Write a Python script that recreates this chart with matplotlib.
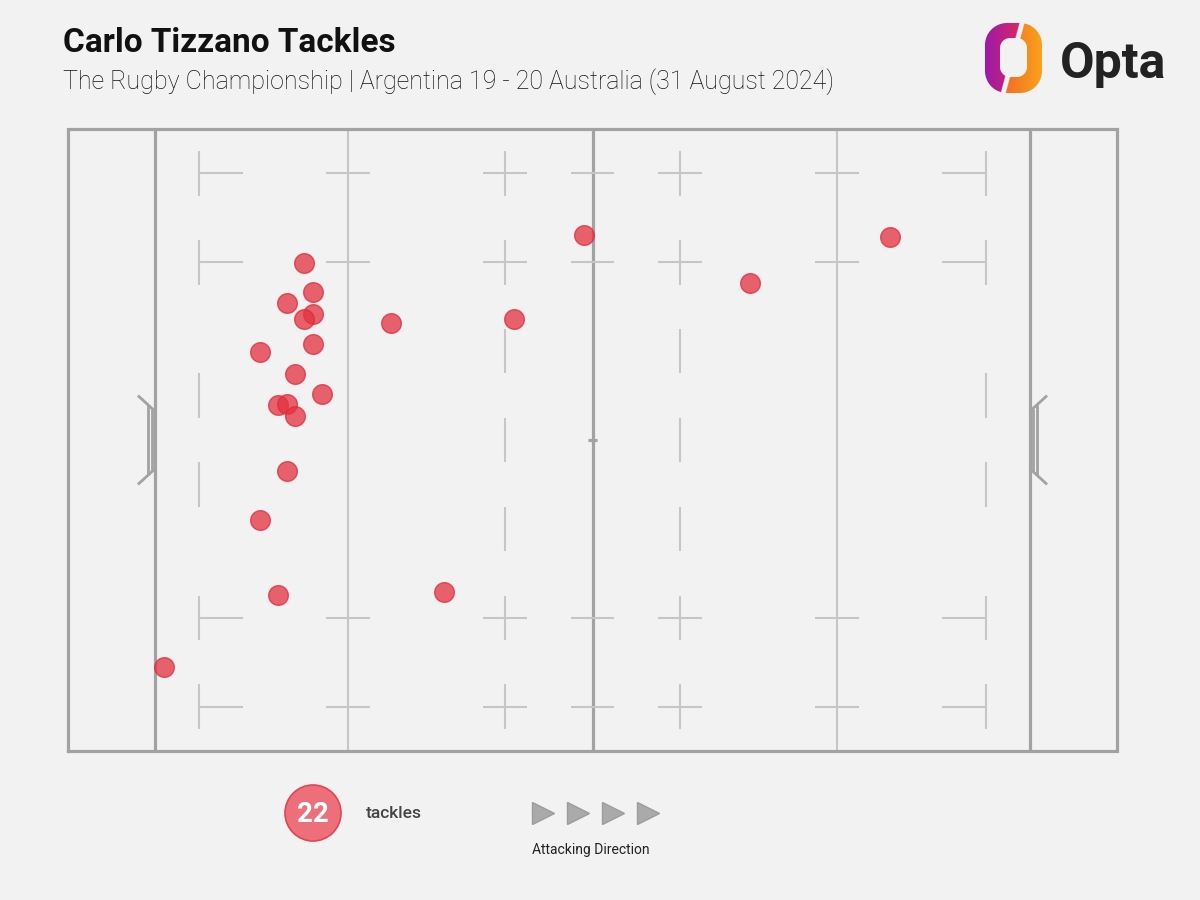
import numpy as np
import matplotlib
matplotlib.use("Agg")
import matplotlib.pyplot as plt
from matplotlib.path import Path
from matplotlib.patches import PathPatch, Circle
from matplotlib.colors import to_rgb

# Tackle locations in metres: x from own try line, y from bottom touchline
tackle_x = [49.0, 84.0, 17.0, 68.0, 18.0, 15.0, 18.0, 17.0, 27.0, 41.0, 18.0,
            12.0, 16.0, 19.0, 14.0, 15.0, 16.0, 15.0, 12.0, 14.0, 33.0, 1.0]
tackle_y = [58.1, 57.9, 54.9, 52.7, 51.6, 50.4, 49.2, 48.6, 48.2, 48.6, 45.8,
            44.9, 42.4, 40.2, 38.9, 39.1, 37.7, 31.5, 26.0, 17.6, 17.9, 9.5]

title = "Carlo Tizzano Tackles"
subtitle = "The Rugby Championship | Argentina 19 - 20 Australia (31 August 2024)"
count_label = "tackles"
direction_label = "Attacking Direction"

BG = "#f2f2f2"
LINE_DARK = "#a2a2a2"
LINE_LIGHT = "#c6c6c6"
DOT = "#e4303f"

plt.rcParams["font.family"] = ["Roboto", "DejaVu Sans"]

fig = plt.figure(figsize=(12, 9), dpi=100, facecolor=BG)

# --- pitch ---
ax = fig.add_axes([68 / 1200, 149 / 900, 1049 / 1200, 622 / 900])
ax.set_xlim(-10, 110)
ax.set_ylim(0, 70)
ax.set_facecolor(BG)
ax.axis("off")


def seg(x0, x1, y0, y1, color=LINE_LIGHT, lw=1.5):
    ax.plot([x0, x1], [y0, y1], color=color, lw=lw, solid_capstyle="butt",
            clip_on=False, zorder=1)


# dead ball lines and touchlines
ax.plot([-10, 110, 110, -10, -10], [0, 0, 70, 70, 0], color=LINE_DARK, lw=2.3,
        solid_joinstyle="miter", clip_on=False, zorder=2)
# try lines and halfway
for x in (0, 50, 100):
    seg(x, x, 0, 70, LINE_DARK, 2.3)
# 22m lines
for x in (22, 78):
    seg(x, x, 0, 70, LINE_LIGHT, 1.5)
    for y in (5, 15, 55, 65):
        seg(x - 2.5, x + 2.5, y, y)
# halfway hash marks
for y in (5, 15, 55, 65):
    seg(47.5, 52.5, y, y)
seg(49.5, 50.5, 35, 35, LINE_DARK, 2.3)
# 5m lines
for x, d in ((5, 1), (95, -1)):
    for yc in (5, 15, 30, 40, 55, 65):
        seg(x, x, yc - 2.5, yc + 2.5)
    for y in (5, 15, 55, 65):
        seg(x, x + 5 * d, y, y)
# 10m lines
for x in (40, 60):
    for yc in (5, 15, 25, 35, 45, 55, 65):
        seg(x, x, yc - 2.5, yc + 2.5)
    for y in (5, 15, 55, 65):
        seg(x - 2.5, x + 2.5, y, y)
# goal posts
for base, d in ((0, 1), (100, -1)):
    seg(base - 2 * d, base, 40, 38.2, LINE_DARK, 2.0)
    seg(base, base - 2 * d, 31.8, 30, LINE_DARK, 2.0)
    seg(base - 0.8 * d, base - 0.8 * d, 31.1, 38.9, LINE_DARK, 2.0)
    seg(base - 0.35 * d, base - 0.35 * d, 31.5, 38.5, LINE_DARK, 2.0)

ax.scatter(tackle_x, tackle_y, s=200, color=DOT, alpha=0.75,
           edgecolors="#e02a3a", linewidths=1.0, zorder=5, clip_on=False)

# --- titles ---
fig.text(63 / 1200, 1 - 52 / 900, title, fontsize=24, fontweight="bold",
         color="#111111", va="baseline")
fig.text(63 / 1200, 1 - 89 / 900, subtitle, fontsize=18, fontweight="light",
         color="#111111", va="baseline")

# --- Opta logo ---
lax = fig.add_axes([985 / 1200, 1 - 94 / 900, 57 / 1200, 71 / 900])
lax.set_xlim(0, 57)
lax.set_ylim(71, 0)
lax.axis("off")


def rounded_rect(x0, y0, x1, y1, r, n=16):
    pts = []
    for cx, cy, a0 in ((x1 - r, y0 + r, -90), (x1 - r, y1 - r, 0),
                       (x0 + r, y1 - r, 90), (x0 + r, y0 + r, 180)):
        t = np.radians(np.linspace(a0, a0 + 90, n))
        pts.append(np.column_stack([cx + r * np.cos(t), cy + r * np.sin(t)]))
    pts = np.vstack(pts)
    return np.vstack([pts, pts[:1]])


outer = rounded_rect(0, 0, 57, 70, 22)
inner = rounded_rect(15, 15, 42, 54, 10)[::-1]
ring = Path.make_compound_path(Path(outer, closed=True), Path(inner, closed=True))
ring_patch = PathPatch(ring, facecolor="none", edgecolor="none")
lax.add_patch(ring_patch)

ny, nx = 284, 228
X, Y = np.meshgrid(np.linspace(0, 57, nx), np.linspace(0, 71, ny))
side = X - (37 - 19 * Y / 71)
img = np.zeros((ny, nx, 4))
left_a, left_b = np.array(to_rgb("#9a1aa9")), np.array(to_rgb("#e6285a"))
right_a, right_b = np.array(to_rgb("#f26a24")), np.array(to_rgb("#f9a21b"))
tl = np.clip(X / 40, 0, 1)[..., None]
tr = np.clip((X - 18) / 39, 0, 1)[..., None]
img[..., :3] = np.where((side < 0)[..., None], left_a + (left_b - left_a) * tl,
                        right_a + (right_b - right_a) * tr)
img[..., 3] = (np.abs(side) > 2.5).astype(float)
im = lax.imshow(img, extent=(0, 57, 71, 0), origin="upper",
                interpolation="bilinear", aspect="auto")
im.set_clip_path(ring_patch)

fig.text(1060 / 1200, 1 - 78 / 900, "Opta", fontsize=36, fontweight="bold",
         color="#222222", va="baseline")

# --- key ---
kax = fig.add_axes([0, 0, 1, 1])
kax.set_xlim(0, 1200)
kax.set_ylim(900, 0)
kax.axis("off")
kax.add_patch(Circle((313, 813), 28, facecolor="#ec6f79", edgecolor="#e34452",
                     lw=1.2))
kax.text(313, 814, str(len(tackle_x)), fontsize=20, fontweight="bold",
         color="white", ha="center", va="center")
kax.text(366, 813, count_label, fontsize=12.5, fontweight="medium",
         color="#444444", ha="left", va="center")
kax.plot([542.5, 577.5, 612.5, 647.5], [813] * 4, marker=">", ms=16.5,
         ls="none", mfc="#aaaaaa", mec="#9c9c9c", mew=1.0)
kax.text(532, 854, direction_label, fontsize=10, color="#222222",
         ha="left", va="baseline")

fig.savefig("out.png", dpi=100, facecolor=BG)
